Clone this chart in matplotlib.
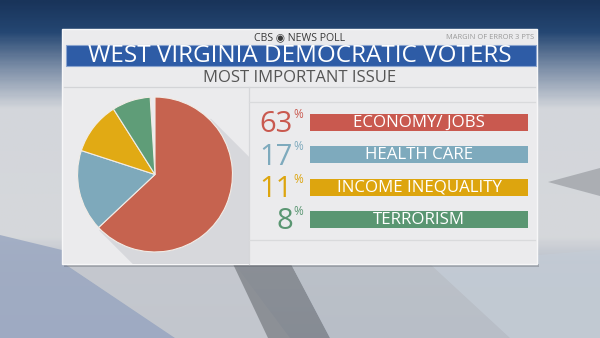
import numpy as np
import matplotlib
matplotlib.use("Agg")
import matplotlib.pyplot as plt
from matplotlib.patches import Rectangle, Polygon
from matplotlib.colors import LinearSegmentedColormap

# ---- data ----
categories = ["ECONOMY/ JOBS", "HEALTH CARE", "INCOME INEQUALITY", "TERRORISM"]
values = [63, 17, 11, 8]
labels_pct = ["63", "17", "11", "8"]
pie_colors = ["#c6634f", "#7ea9bb", "#e1aa14", "#5f9d78"]
bar_colors = ["#c9594f", "#7eaabd", "#dda50e", "#5a9672"]
title = "WEST VIRGINIA DEMOCRATIC VOTERS"
subtitle = "MOST IMPORTANT ISSUE"
header = "CBS \u25C9 NEWS POLL"
margin_note = "MARGIN OF ERROR 3 PTS"

FONT = "Open Sans"
W, H = 600, 338
fig = plt.figure(figsize=(W / 100, H / 100), dpi=100)

# ---- background ----
bg = fig.add_axes([0, 0, 1, 1])
bg.set_xlim(0, W)
bg.set_ylim(H, 0)
bg.axis("off")
stops = [(0.0, "#19345a"), (0.09, "#244672"), (0.2, "#7d8fa8"),
         (0.32, "#d3d6db"), (0.7, "#d6d8db"), (0.78, "#b9c0cb"), (1.0, "#a3afc2")]
cmap = LinearSegmentedColormap.from_list("bgc", stops)
grad = np.linspace(0, 1, 300)[:, None] * np.ones((1, 10))
bg.imshow(grad, cmap=cmap, extent=[0, W, H, 0], aspect="auto", zorder=0,
          vmin=0, vmax=1)
# geometric shapes in background
bg.add_patch(Polygon([[0, 235], [62, 250], [62, 262], [175, 338], [0, 338]], closed=True,
                     fc="#9eaac2", ec="none", alpha=0.9, zorder=1))
bg.add_patch(Polygon([[62, 262], [233, 262], [290, 338], [175, 338]], closed=True,
                     fc="#c6c9cf", ec="none", alpha=0.9, zorder=1))
bg.add_patch(Polygon([[233, 264], [291, 264], [330, 338], [268, 338]], closed=True,
                     fc="#7f8389", ec="none", alpha=0.8, zorder=1))
bg.add_patch(Polygon([[291, 264], [600, 264], [600, 338], [330, 338]], closed=True,
                     fc="#bcc1c8", ec="none", alpha=0.85, zorder=1))
bg.add_patch(Polygon([[430, 264], [600, 250], [600, 338], [510, 338]], closed=True,
                     fc="#c4ccd6", ec="none", alpha=0.8, zorder=1))
bg.add_patch(Polygon([[548, 182], [600, 168], [600, 196]], closed=True,
                     fc="#9a9da3", ec="none", alpha=0.7, zorder=1))

# ---- panel ----
px0, py0, px1, py1 = 62, 29, 537, 264
panel = Rectangle((px0, py0), px1 - px0, py1 - py0, fc="#ebebed", ec="#f7f7f8",
                  lw=1.0, zorder=2)
bg.add_patch(panel)
bg.add_patch(Rectangle((px0 + 2, py1), px1 - px0, 3, fc="#4c5058", ec="none",
                       alpha=0.3, zorder=1.5))

# header texts
bg.text(300, 37.5, header, ha="center", va="center", fontsize=7.6,
        color="#3a3a3a", family=[FONT, "DejaVu Sans"], zorder=5)
bg.text(534, 37.5, margin_note, ha="right", va="center", fontsize=5.4,
        color="#9a9a9a", family=FONT, zorder=5)

# banner
bg.add_patch(Rectangle((65.5, 45), 470, 21, fc="#2e5ca6", ec="#8aa4cf", lw=0.8, zorder=3))
bg.text(300, 55.5, title, ha="center", va="center", fontsize=17.5, color="white",
        family=FONT, zorder=5)

# subtitle
bg.text(300, 77.5, subtitle, ha="center", va="center", fontsize=12,
        color="#555555", family=FONT, zorder=5)

# separator lines
bg.plot([px0 + 2, px1 - 2], [86.5, 86.5], color="#d3d4d7", lw=0.9, zorder=4)
bg.plot([249, 249], [87, py1], color="#d6d7da", lw=0.9, zorder=4)
bg.plot([249, px1 - 2], [102, 102], color="#d9dadc", lw=0.9, zorder=4)
bg.plot([249, px1 - 2], [239.5, 239.5], color="#d9dadc", lw=0.9, zorder=4)

# pie shadow
cx, cy, r = 155, 174.5, 79
ang = np.deg2rad(45)
pA = (cx + r * np.cos(ang), cy - r * np.sin(ang))
pB = (cx - r * np.cos(ang), cy + r * np.sin(ang))
L = 260
shadow = Polygon([pA, pB, (pB[0] + L, pB[1] + L), (pA[0] + L, pA[1] + L)],
                 closed=True, fc="#d7d8dc", ec="none", zorder=3)
bg.add_patch(shadow)
clip = Rectangle((px0, 87), 249 - px0, py1 - 87, transform=bg.transData)
shadow.set_clip_path(clip)

# ---- pie ----
pax = fig.add_axes([(cx - r) / W, 1 - (cy + r) / H, 2 * r / W, 2 * r / H])
pax.set_zorder(6)
pax.pie([v / 100 for v in values], colors=pie_colors, startangle=90,
        counterclock=False, normalize=False, radius=1,
        wedgeprops=dict(edgecolor="#f2ece6", linewidth=0.8))
pax.set_xlim(-1.02, 1.02)
pax.set_ylim(-1.02, 1.02)
pax.set_aspect("equal")
pax.axis("off")

# ---- bars ----
bx0, bx1 = 310, 528
row_gap = 32.3
btop = 122.5 - row_gap / 2
bax = fig.add_axes([bx0 / W, 1 - (btop + 4 * row_gap) / H, (bx1 - bx0) / W, 4 * row_gap / H])
bax.set_zorder(6)
n = len(categories)
ypos = np.arange(n)
bax.barh(ypos, [1] * n, height=0.53, color=bar_colors, left=0)
bax.set_xlim(0, 1)
bax.set_ylim(n - 0.5, -0.5)
bax.axis("off")
for i, (cat, pct, col) in enumerate(zip(categories, labels_pct, bar_colors)):
    bax.text(0.5, i + 0.02, cat, ha="center", va="center", fontsize=12.2,
             color="white", family=FONT)
    bax.annotate(pct, xy=(0, i), xytext=(-17, -2.5), textcoords="offset pixels",
                 ha="right", va="center", fontsize=21, color=col,
                 family=FONT, annotation_clip=False)
    bax.annotate("%", xy=(0, i), xytext=(-16.5, 1.5), textcoords="offset pixels",
                 ha="left", va="bottom", fontsize=8.5, color=col,
                 family=FONT, annotation_clip=False)

fig.savefig("out.png", dpi=100)
